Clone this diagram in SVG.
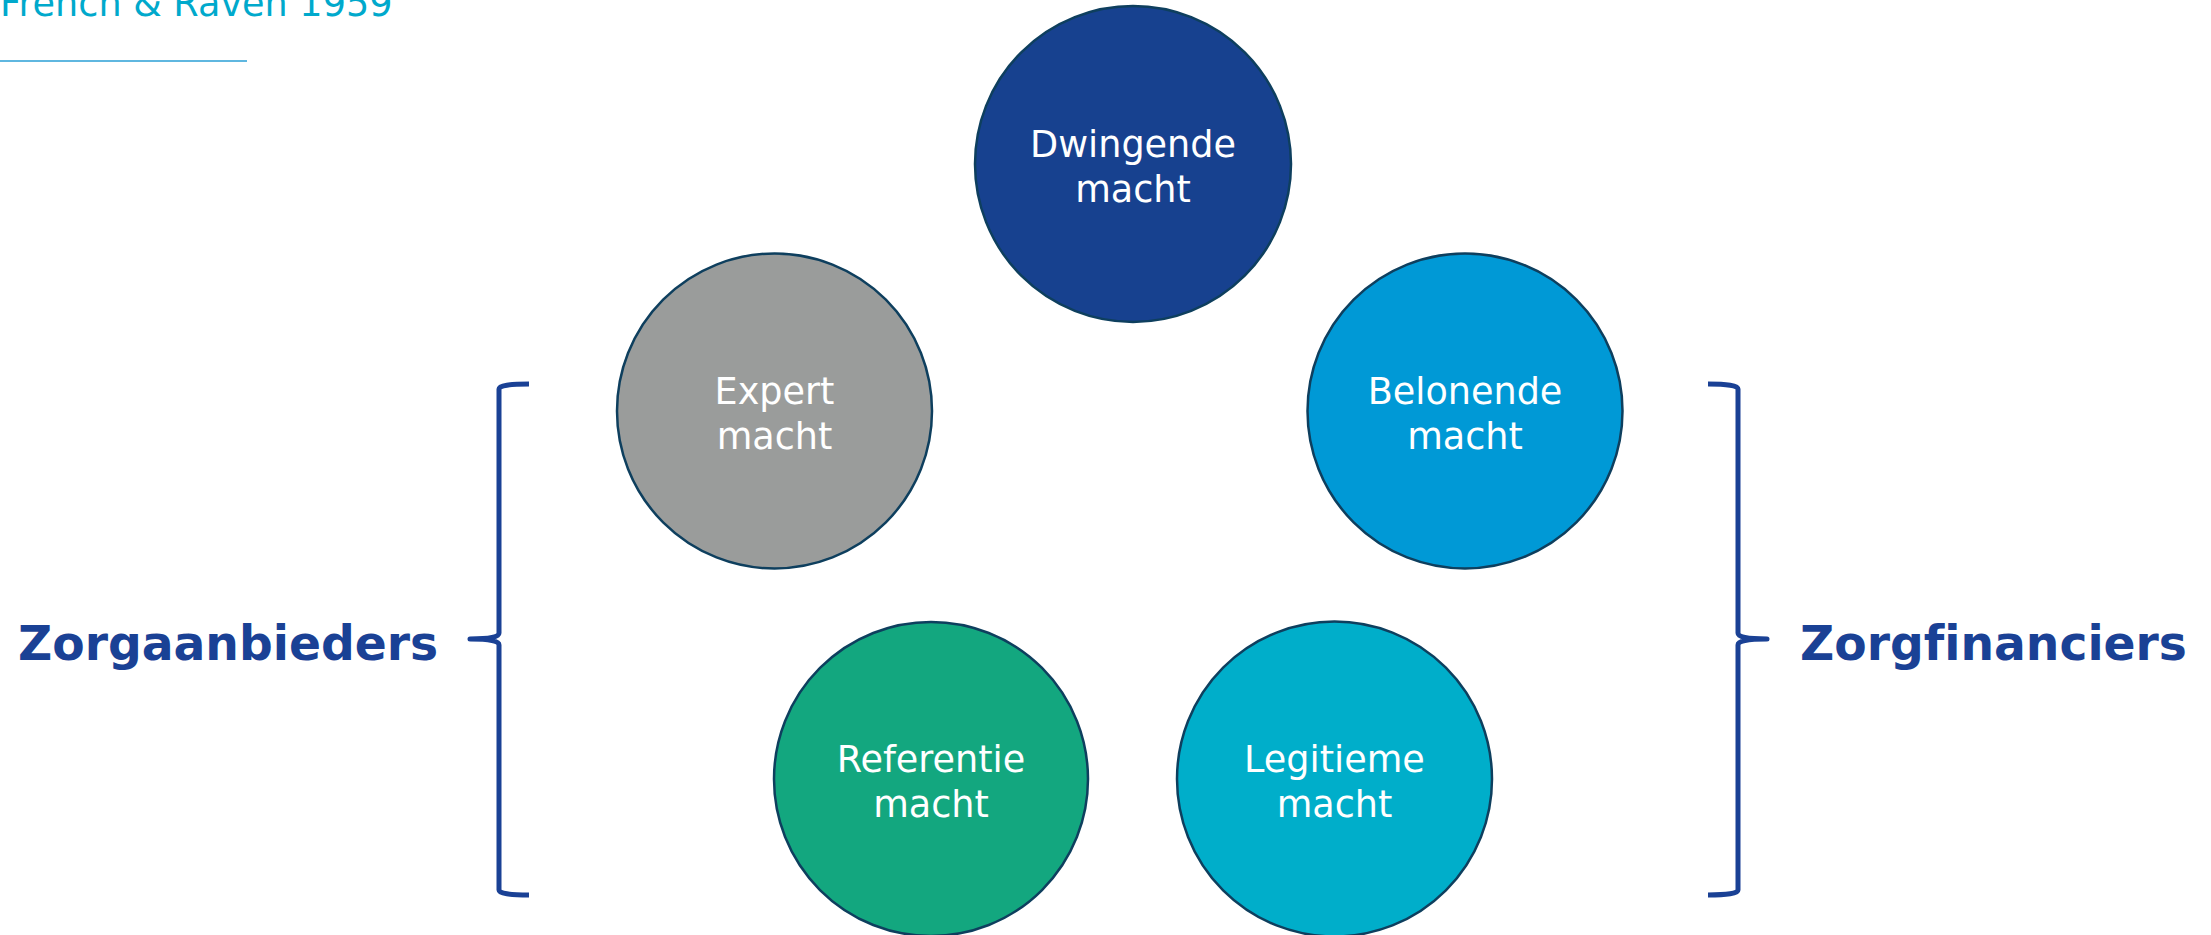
<svg xmlns="http://www.w3.org/2000/svg" width="2211" height="935" viewBox="0 0 2211 935">
<style>
text{font-variant-ligatures:none;font-feature-settings:"liga" 0,"clig" 0}
.node circle{stroke:#0e3f5e;stroke-width:2.5}
.lbl{font-family:"DejaVu Sans",Verdana,sans-serif;font-size:36.6px;fill:#ffffff;text-anchor:middle}
.grp{font-family:"DejaVu Sans",Verdana,sans-serif;font-size:47.2px;font-weight:bold;fill:#1a4195}
.brace{fill:none;stroke:#1a4195;stroke-width:5;stroke-linecap:butt;stroke-linejoin:round}
</style>
<rect width="2211" height="935" fill="#ffffff"/>
<g id="title">
<text x="0" y="16" style="font-family:'DejaVu Sans',Verdana,sans-serif;font-size:36.6px;fill:#00a9cc">French &amp; Raven 1959</text>
<line x1="0" y1="61" x2="247" y2="61" stroke="#2a9fd6" stroke-width="1.6"/>
</g>
<g id="dwingende" class="node">
<circle cx="1133" cy="164" r="158" fill="#17418f"/>
<text class="lbl" x="1133" y="157">Dwingende</text>
<text class="lbl" x="1133" y="202">macht</text>
</g>
<g id="expert" class="node">
<circle cx="774.5" cy="411" r="157.5" fill="#9a9c9b"/>
<text class="lbl" x="774.5" y="404">Expert</text>
<text class="lbl" x="774.5" y="449">macht</text>
</g>
<g id="belonende" class="node">
<circle cx="1465" cy="411" r="157.5" fill="#0099d6"/>
<text class="lbl" x="1465" y="404">Belonende</text>
<text class="lbl" x="1465" y="449">macht</text>
</g>
<g id="referentie" class="node">
<circle cx="931" cy="779" r="157" fill="#13a77f"/>
<text class="lbl" x="931" y="772">Referentie</text>
<text class="lbl" x="931" y="817">macht</text>
</g>
<g id="legitieme" class="node">
<circle cx="1334.5" cy="779" r="157.5" fill="#00aeca"/>
<text class="lbl" x="1334.5" y="772">Legitieme</text>
<text class="lbl" x="1334.5" y="817">macht</text>
</g>
<g id="connectors">
<path class="brace" d="M529,384 C510,384 499,385.5 499,389 L499,633 C499,637 490,639 470,639 C490,639 499,641 499,645 L499,890 C499,893.5 510,895 529,895"/>
<path class="brace" d="M1708,384 C1727,384 1738,385.5 1738,389 L1738,633 C1738,637 1747,639 1767,639 C1747,639 1738,641 1738,645 L1738,890 C1738,893.5 1727,895 1708,895"/>
</g>
<g id="zorgaanbieders">
<text class="grp" x="18" y="660">Zorgaanbieders</text>
</g>
<g id="zorgfinanciers">
<text class="grp" x="1800" y="660">Zorgfinanciers</text>
</g>
</svg>
